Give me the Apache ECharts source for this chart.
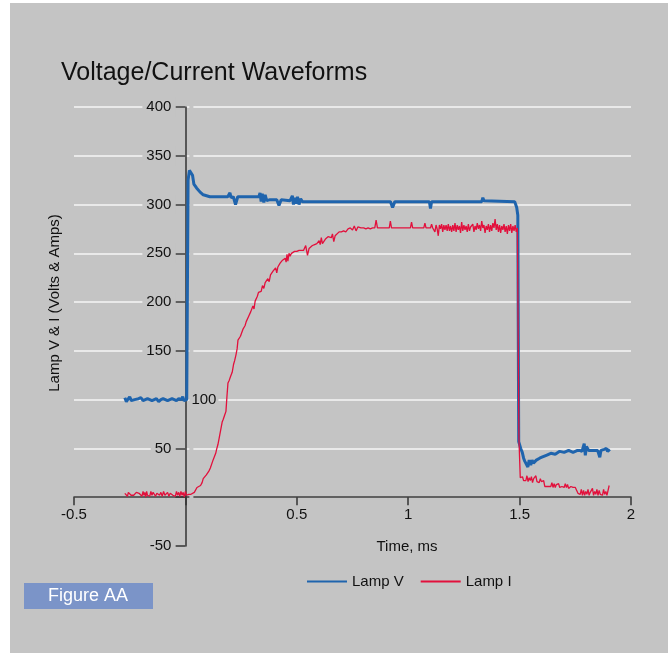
<!DOCTYPE html>
<html>
<head>
<meta charset="utf-8">
<title>Voltage/Current Waveforms</title>
<script src="https://cdn.jsdelivr.net/npm/echarts@6/dist/echarts.min.js"></script>
<style>
  html, body { margin: 0; padding: 0; background: #fff; }
  #chart { width: 672px; height: 656px; }
</style>
</head>
<body>
<div id="chart"></div>
<script>
  // [time ms, volts]
  var lampV = [
    [-0.272,102],[-0.265,98],[-0.258,100],[-0.25,103],[-0.243,99],[-0.235,101],[-0.228,100],[-0.22,98],
    [-0.21,101],[-0.2,102],[-0.19,99],[-0.18,100],[-0.17,101],[-0.16,100],[-0.15,99],[-0.14,100],
    [-0.13,101],[-0.12,98],[-0.11,100],[-0.1,101],[-0.09,100],[-0.08,99],[-0.07,100],[-0.06,101],
    [-0.05,100],[-0.04,99],[-0.03,101],[-0.02,100],[-0.012,103],[-0.006,99],[0,101],[0.006,100],
    [0.012,325],[0.018,335],[0.025,333],[0.032,330],[0.038,321],[0.05,317],[0.065,313],[0.08,310],
    [0.095,309],[0.11,308],[0.14,308],[0.16,308],[0.19,308],[0.2,312],[0.205,307],[0.215,308],
    [0.225,300],[0.235,308],[0.3,308],[0.33,308],[0.335,312],[0.34,303],[0.345,311],[0.352,302],
    [0.358,310],[0.365,304],[0.38,305],[0.39,305],[0.41,305],[0.42,299],[0.43,305],[0.47,304],
    [0.48,309],[0.485,300],[0.49,307],[0.497,301],[0.503,308],[0.51,300],[0.517,306],[0.525,303],
    [0.55,303],[0.6,303],[0.92,303],[0.93,297],[0.94,303],[1.095,303],[1.1,296],[1.105,303],
    [1.33,303],[1.335,307],[1.34,304],[1.478,303],[1.487,297],[1.492,289],[1.496,57],[1.505,50],
    [1.512,46],[1.518,40],[1.523,37],[1.53,35],[1.537,31],[1.543,38],[1.55,33],[1.556,38],
    [1.562,35],[1.575,38],[1.59,40],[1.6,41],[1.62,43],[1.64,45],[1.66,44],[1.68,47],
    [1.7,46],[1.72,48],[1.74,46],[1.76,48],[1.77,48],[1.78,47],[1.79,55],[1.795,43],
    [1.8,52],[1.81,48],[1.83,48],[1.85,48],[1.86,41],[1.865,48],[1.88,49],[1.89,50],
    [1.895,47],[1.905,49]
  ];

  // [time ms, amps]
  var lampI = [
    [-0.272,4],[-0.268,2],[-0.264,6],[-0.26,1],[-0.256,5],[-0.252,3],[-0.248,3],[-0.244,2],
    [-0.238,3],[-0.232,2],[-0.226,4],[-0.22,5],[-0.214,3],[-0.208,4],[-0.2,3],[-0.195,1],
    [-0.19,6],[-0.186,2],[-0.182,5],[-0.178,0],[-0.174,6],[-0.17,2],[-0.165,4],[-0.16,1],
    [-0.155,6],[-0.15,2],[-0.145,5],[-0.14,3],[-0.134,1],[-0.128,4],[-0.122,3],[-0.116,2],
    [-0.11,5],[-0.104,1],[-0.098,6],[-0.092,2],[-0.086,3],[-0.08,5],[-0.074,1],[-0.068,4],
    [-0.062,3],[-0.056,2],[-0.05,3],[-0.045,1],[-0.04,6],[-0.035,2],[-0.03,5],[-0.025,1],
    [-0.02,6],[-0.015,2],[-0.01,5],[-0.005,0],[0,6],[0.005,2],[0.01,4],[0.015,3],
    [0.02,5],[0.025,3],[0.03,4],[0.04,5],[0.046,7],[0.052,10],[0.06,10],[0.068,12],
    [0.075,15],[0.08,19],[0.087,20],[0.094,23],[0.1,25],[0.106,27],[0.112,30],[0.118,31],
    [0.124,38],[0.13,40],[0.136,45],[0.14,49],[0.146,54],[0.152,61],[0.158,63],[0.165,77],
    [0.17,80],[0.176,84],[0.182,88],[0.187,105],[0.191,117],[0.197,120],[0.203,124],[0.21,128],
    [0.216,136],[0.221,140],[0.227,146],[0.232,152],[0.236,161],[0.242,163],[0.247,165],[0.252,166],
    [0.258,172],[0.262,171],[0.268,176],[0.273,180],[0.278,178],[0.283,185],[0.288,183],[0.293,190],
    [0.298,189],[0.303,196],[0.308,193],[0.313,201],[0.318,199],[0.323,206],[0.328,210],[0.334,212],
    [0.34,211],[0.346,217],[0.352,214],[0.358,220],[0.364,219],[0.37,224],[0.376,221],[0.382,228],
    [0.388,226],[0.394,232],[0.4,230],[0.405,235],[0.41,230],[0.415,236],[0.42,234],[0.425,240],
    [0.43,238],[0.436,243],[0.442,241],[0.448,245],[0.452,241],[0.456,249],[0.46,242],[0.465,250],
    [0.47,247],[0.476,250],[0.482,251],[0.49,252],[0.5,252],[0.51,253],[0.52,253],[0.53,253],
    [0.54,258],[0.548,248],[0.555,255],[0.562,257],[0.57,258],[0.58,259],[0.59,260],[0.6,263],
    [0.605,259],[0.61,266],[0.615,260],[0.62,262],[0.63,265],[0.64,267],[0.648,268],[0.655,266],
    [0.66,270],[0.666,262],[0.672,268],[0.68,270],[0.69,272],[0.7,272],[0.71,273],[0.72,272],
    [0.73,275],[0.74,276],[0.75,274],[0.758,278],[0.766,273],[0.774,277],[0.78,275],[0.788,276],
    [0.795,274],[0.8,276],[0.81,275],[0.82,276],[0.83,275],[0.84,276],[0.85,276],[0.856,284],
    [0.862,276],[0.87,276],[0.88,276],[0.9,276],[0.915,276],[0.92,283],[0.925,276],[0.94,276],
    [0.96,276],[0.98,276],[1.0,276],[1.01,276],[1.015,282],[1.02,276],[1.03,276],[1.06,276],
    [1.07,276],[1.075,281],[1.08,276],[1.09,276],[1.1,276],[1.105,280],[1.11,276],[1.12,272],
    [1.125,279],[1.13,275],[1.135,268],[1.14,279],[1.145,275],[1.15,280],[1.155,272],[1.16,279],
    [1.165,274],[1.17,279],[1.175,273],[1.18,280],[1.185,273],[1.19,278],[1.195,272],[1.2,279],
    [1.205,273],[1.21,281],[1.215,272],[1.22,279],[1.225,274],[1.23,278],[1.235,271],[1.24,282],
    [1.245,273],[1.25,279],[1.255,274],[1.26,278],[1.265,272],[1.27,280],[1.275,273],[1.28,277],
    [1.285,275],[1.29,280],[1.295,272],[1.3,278],[1.305,274],[1.31,281],[1.315,275],[1.32,279],
    [1.325,273],[1.33,283],[1.335,276],[1.34,279],[1.345,271],[1.35,278],[1.355,274],[1.36,280],
    [1.365,272],[1.37,279],[1.375,273],[1.38,281],[1.385,276],[1.39,285],[1.395,274],[1.4,280],
    [1.405,272],[1.41,279],[1.415,271],[1.42,278],[1.425,274],[1.43,280],[1.435,272],[1.44,278],
    [1.445,270],[1.45,279],[1.455,273],[1.46,280],[1.465,271],[1.47,278],[1.475,273],[1.48,279],
    [1.485,272],[1.49,276],[1.494,276],[1.497,60],[1.503,20],[1.508,18],[1.513,21],[1.518,17],
    [1.523,19],[1.528,17],[1.533,22],[1.538,16],[1.543,20],[1.548,17],[1.553,21],[1.558,15],
    [1.563,19],[1.568,17],[1.573,22],[1.578,16],[1.583,18],[1.588,15],[1.593,19],[1.598,16],
    [1.603,18],[1.608,17],[1.613,11],[1.62,11],[1.63,11],[1.64,11],[1.645,15],[1.65,10],
    [1.655,14],[1.66,10],[1.665,13],[1.67,11],[1.675,14],[1.68,10],[1.69,11],[1.7,10],
    [1.705,14],[1.71,10],[1.715,13],[1.72,9],[1.73,11],[1.74,10],[1.75,10],[1.758,10],
    [1.762,4],[1.768,6],[1.772,3],[1.777,8],[1.782,2],[1.787,7],[1.792,2],[1.797,6],
    [1.802,3],[1.807,8],[1.812,2],[1.817,5],[1.822,3],[1.827,9],[1.832,2],[1.837,6],
    [1.842,3],[1.847,8],[1.852,2],[1.857,7],[1.862,3],[1.867,5],[1.872,2],[1.877,8],
    [1.882,3],[1.887,6],[1.892,2],[1.897,4],[1.902,12]
  ];

  var seriesNames = ['Lamp V', 'Lamp I'];
  var xRange = [-0.5, 2, 0.5];   // min, max, step
  var yRange = [-50, 400, 50];

  var font = "'Liberation Sans', Arial, sans-serif";
  var panel = '#c4c4c4';

  // plot box in pixels
  var gridLeft = 74, gridRight = 41, gridTop = 107, gridBottom = 110;
  var plotW = 672 - gridLeft - gridRight;
  var plotH = 656 - gridTop - gridBottom;
  // the axes cross at (0, 0): shift each axis from the grid edge to the zero of the other one
  var yShift = plotW * (0 - xRange[0]) / (xRange[1] - xRange[0]);
  var xShift = plotH * (0 - yRange[0]) / (yRange[1] - yRange[0]);

  var myChart = echarts.init(document.getElementById('chart'), null, { renderer: 'canvas' });

  var option = {
    backgroundColor: '#ffffff',
    animation: false,
    textStyle: { fontFamily: font },
    title: {
      text: 'Voltage/Current Waveforms',
      left: 61,
      top: 61,
      padding: 0,
      textStyle: { fontFamily: font, fontSize: 25, fontWeight: 'normal', color: '#111' }
    },
    legend: {
      data: seriesNames,
      left: 301,
      top: 569,
      itemWidth: 40,
      itemHeight: 14,
      itemGap: 16,
      itemStyle: { opacity: 0 },
      textStyle: { fontFamily: font, fontSize: 15, color: '#111' }
    },
    grid: {
      left: gridLeft,
      right: gridRight,
      top: gridTop,
      bottom: gridBottom,
      containLabel: false,
      outerBoundsMode: 'none'
    },
    graphic: [
      {
        type: 'rect', z: -10, silent: true,
        shape: { x: 10, y: 3, width: 658, height: 650 },
        style: { fill: panel }
      },
      {
        type: 'rect', z: 10, silent: true,
        shape: { x: 24, y: 583, width: 129, height: 26 },
        style: { fill: '#7b94c8' }
      },
      {
        type: 'text', z: 11, silent: true,
        x: 88, y: 596,
        style: { text: 'Figure AA', fill: '#fff', font: '18px ' + font, align: 'center', verticalAlign: 'middle' }
      },
      {
        type: 'text', z: 11, silent: true,
        x: 55, y: 303, rotation: Math.PI / 2,
        style: { text: 'Lamp V & I (Volts & Amps)', fill: '#111', font: '15px ' + font, align: 'center', verticalAlign: 'middle' }
      },
      {
        type: 'text', z: 11, silent: true,
        x: 407, y: 547,
        style: { text: 'Time, ms', fill: '#111', font: '15px ' + font, align: 'center', verticalAlign: 'middle' }
      }
    ],
    xAxis: {
      type: 'value',
      min: xRange[0],
      max: xRange[1],
      interval: xRange[2],
      position: 'bottom',
      offset: -xShift,
      axisLine: { onZero: false, lineStyle: { color: '#333', width: 1.5 } },
      axisTick: { show: true, length: 8, lineStyle: { color: '#333', width: 1.5 } },
      axisLabel: {
        margin: 10,
        fontSize: 15,
        fontFamily: font,
        color: '#111',
        formatter: function (v) { return v === 0 ? '' : String(v); }
      },
      splitLine: { show: false }
    },
    yAxis: [
      {
        type: 'value',
        min: yRange[0],
        max: yRange[1],
        interval: yRange[2],
        position: 'left',
        offset: -yShift,
        axisLine: { show: true, onZero: false, lineStyle: { color: '#333', width: 1.5 } },
        axisTick: { show: true, length: 10, lineStyle: { color: '#333', width: 1.5 } },
        axisLabel: {
          margin: 10,
          fontSize: 15,
          fontFamily: font,
          color: '#111',
          backgroundColor: panel,
          padding: [2, 4, 2, 4],
          formatter: function (v) {
            if (v === 0) return '';
            if (v === 100) return '{h|100}';
            return String(v);
          },
          rich: { h: { color: 'rgba(0,0,0,0)', fontSize: 15, fontFamily: font } }
        },
        splitLine: { show: true, showMinLine: false, lineStyle: { color: '#e9e9e9', width: 2 } }
      },
      {
        // only carries the "100" label, drawn on the right side of the axis
        type: 'value',
        min: yRange[0],
        max: yRange[1],
        interval: yRange[2],
        position: 'right',
        offset: -(plotW - yShift),
        axisLine: { show: false, onZero: false },
        axisTick: { show: false },
        axisLabel: {
          margin: 4,
          fontSize: 15,
          fontFamily: font,
          color: '#111',
          backgroundColor: panel,
          padding: [2, 2, 2, 2],
          formatter: function (v) { return v === 100 ? '100' : ''; }
        },
        splitLine: { show: false }
      }
    ],
    series: [
      {
        name: seriesNames[0],
        type: 'line',
        data: lampV,
        symbol: 'none',
        showSymbol: false,
        z: 3,
        lineStyle: { color: '#1f64ad', width: 3 },
        itemStyle: { color: '#1f64ad' }
      },
      {
        name: seriesNames[1],
        type: 'line',
        data: lampI,
        symbol: 'none',
        showSymbol: false,
        z: 4,
        lineStyle: { color: '#e2103c', width: 1.3 },
        itemStyle: { color: '#e2103c' }
      }
    ]
  };

  myChart.setOption(option);
</script>
</body>
</html>
